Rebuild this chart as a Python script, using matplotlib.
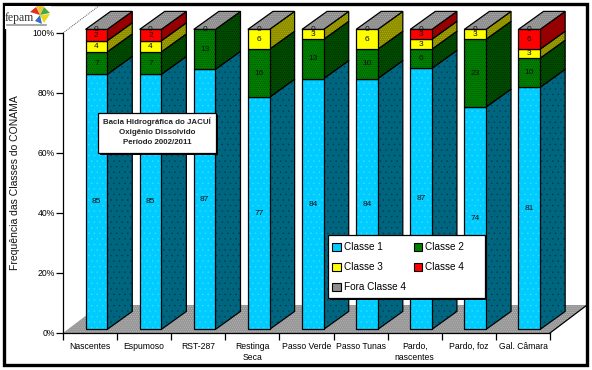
import matplotlib
matplotlib.use('Agg')
import matplotlib.pyplot as plt
from matplotlib.patches import Polygon, Rectangle, Patch

plt.rcParams['font.family'] = ['Liberation Sans', 'DejaVu Sans']
plt.rcParams['hatch.linewidth'] = 0.3

## -- chart values
sites = ['Nascentes', 'Espumoso', 'RST-287', 'Restinga\nSeca', 'Passo Verde',
         'Passo Tunas', 'Pardo,\nnascentes', 'Pardo, foz', 'Gal. Câmara']
classe1 = [85.0, 85.0, 86.7, 77.4, 83.6, 83.6, 87.0, 74.1, 80.7]
classe2 = [7.5, 7.5, 13.3, 16.0, 13.1, 9.8, 6.4, 22.6, 9.7]
classe3 = [3.7, 3.7, 0.0, 6.6, 3.3, 6.6, 3.3, 3.3, 3.0]
classe4 = [3.8, 3.8, 0.0, 0.0, 0.0, 0.0, 3.3, 0.0, 6.6]
fora = [0, 0, 0, 0, 0, 0, 0, 0, 0]
## -- printed labels are rounded in the original and do not always match
label1 = ['85', '85', '87', '77', '84', '84', '87', '74', '81']
label2 = ['7', '7', '13', '16', '13', '10', '6', '23', '10']
label3 = ['4', '4', '', '6', '3', '6', '3', '3', '3']
label4 = ['2', '2', '', '', '', '', '3', '', '6']
label5 = ['0', '0', '0', '0', '0', '0', '0', '0', '0']
yticks = [0, 20, 40, 60, 80, 100]

series = [classe1, classe2, classe3, classe4, fora]
labels = [label1, label2, label3, label4, label5]
names = ['Classe 1', 'Classe 2', 'Classe 3', 'Classe 4', 'Fora Classe 4']
front = ['#00ccff', '#008000', '#ffff00', '#ff0000', '#8c8c8c']
side = ['#006680', '#004d00', '#8c8c00', '#960000', '#8c8c8c']
hatch_front = ['...', '.'*8, None, None, '.'*8]
hatch_side = ['...', '.'*8, '.'*8, None, '.'*8]
hatch_col = ['#40dcff', '#004000', '#555500', '#700000', '#c0c0c0']
hatch_col_side = ['#003850', '#001800', '#c0c000', '#700000', '#c0c0c0']

bar_x0 = 0.417
bar_w = 0.40
bar_base = 1.2
bar_dx = 0.463
bar_dy = 6.0
wall_dx = 0.685
wall_dy = 9.33

def poly(ax, pts, fc, hatch=None, hc='k', z=2, lw=0.9):
 if hatch:
  ax.add_patch(Polygon(pts, closed=True, facecolor=fc, edgecolor=hc,
   hatch=hatch, lw=0, zorder=z, clip_on=False))
  if lw > 0:
   ax.add_patch(Polygon(pts, closed=True, fill=False, edgecolor='k',
    lw=lw, zorder=z, clip_on=False))
 else:
  ax.add_patch(Polygon(pts, closed=True, facecolor=fc, edgecolor='k',
   lw=lw, zorder=z, clip_on=False))

fig = plt.figure(figsize=(5.92, 3.70), dpi=100)
ax = fig.add_axes([63/592, 1-333/370, 487/592, 300/370])
ax.set_xlim(0, 9)
ax.set_ylim(0, 100)
ax.patch.set_alpha(0)
for s in ['top', 'right']:
 ax.spines[s].set_visible(False)
for s in ['left', 'bottom']:
 ax.spines[s].set_linewidth(0.9)
 ax.spines[s].set_zorder(1.5)

## -- floor and back wall
poly(ax, [(0, 0), (9, 0), (9+wall_dx, wall_dy), (wall_dx, wall_dy)], '#969696',
 '.'*8, '#c8c8c8', z=1, lw=0)
ax.plot([9, 9+wall_dx], [0, wall_dy], color='k', lw=0.9, clip_on=False, zorder=1.5)
ax.plot([0, wall_dx], [100, 100+wall_dy], color='#555555', lw=0.7, ls=(0, (1, 1)),
 clip_on=False, zorder=1)

## -- oblique stacked columns
for i in range(len(sites)):
 x0 = i + bar_x0
 x1 = x0 + bar_w
 bottom = bar_base
 z = 3 + i*0.01
 for k in range(len(series)):
  v = series[k][i]
  top = bottom + v
  if v > 0:
   poly(ax, [(x1, bottom), (x1+bar_dx, bottom+bar_dy), (x1+bar_dx, top+bar_dy), (x1, top)],
    side[k], hatch_side[k], hatch_col_side[k], z=z)
   poly(ax, [(x0, bottom), (x1, bottom), (x1, top), (x0, top)],
    front[k], hatch_front[k], hatch_col[k], z=z)
  if labels[k][i]:
   ax.text(x0+bar_w/2, bottom+v/2, labels[k][i], ha='center', va='center',
    fontsize=6, color='#111111', zorder=6, clip_on=False)
  bottom = top
 poly(ax, [(x0, bottom), (x1, bottom), (x1+bar_dx, bottom+bar_dy), (x0+bar_dx, bottom+bar_dy)],
  front[4], hatch_front[4], hatch_col[4], z=z)

ax.set_yticks(yticks)
ax.set_yticklabels(['%d%%' % v for v in yticks], fontsize=6.2)
ax.set_xticks(range(len(sites)+1))
ax.set_xticklabels([])
ax.set_xticks([i+0.5 for i in range(len(sites))], minor=True)
ax.set_xticklabels(sites, minor=True, fontsize=6.2, linespacing=1.3)
ax.tick_params(axis='x', which='minor', length=0, pad=6.5)
ax.tick_params(axis='x', which='major', length=5, width=0.9)
ax.tick_params(axis='y', length=5, width=0.9, pad=1)

## -- overlay in pixel coordinates: frame, title box, legend box, y label, logo
ov = fig.add_axes([0, 0, 1, 1], zorder=10)
ov.set_xlim(0, 592)
ov.set_ylim(370, 0)
ov.axis('off')
ov.patch.set_alpha(0)
ov.add_patch(Rectangle((4, 4), 583, 361, fill=False, edgecolor='k', lw=2.4))
ov.add_patch(Rectangle((100, 115), 118, 40, facecolor='k', edgecolor='k', lw=0))
ov.add_patch(Rectangle((98, 113), 118, 40, facecolor='w', edgecolor='k', lw=0.9))
ov.text(157, 122, 'Bacia Hidrográfica do JACUÍ', ha='center', va='center',
 fontsize=5.7, fontweight='bold', color='#222222')
ov.text(157, 133, 'Oxigênio Dissolvido', ha='center', va='center',
 fontsize=5.7, fontweight='bold', color='#222222')
ov.text(157, 143, 'Período 2002/2011', ha='center', va='center',
 fontsize=5.7, fontweight='bold', color='#222222')
ov.text(15.5, 182.5, 'Frequência das Classes do CONAMA', rotation=90, ha='center',
 va='center', fontsize=7.5, color='#111111')

## -- legend, filled column-wise so Classe 1/3/Fora sit in the first column
ov.add_patch(Rectangle((330, 237), 157, 62.5, facecolor='k', lw=0))
ov.add_patch(Rectangle((328, 235), 157, 62.5, facecolor='w', edgecolor='k', lw=0.9))
order = [0, 2, 4, 1, 3]
handles = [Patch(facecolor=front[k], edgecolor='k', lw=0.8) for k in order]
leg = ov.legend(handles, [names[k] for k in order], ncol=2, loc='upper left',
 bbox_to_anchor=(328, 238), bbox_transform=ov.transData, borderaxespad=0,
 fontsize=7.2, frameon=False, handlelength=0.85, handleheight=0.85,
 handletextpad=0.3, labelspacing=1.0, borderpad=0.4, columnspacing=0.8)

## -- logo
ov.add_patch(Rectangle((5, 6), 46, 23, facecolor='w', edgecolor='none'))
ov.text(19.5, 18, 'fepam', ha='center', va='center', fontsize=8.5, family='Liberation Serif',
 color='#333333')
ov.plot([7, 46], [25, 25], color='#999999', lw=1.2)
ov.add_patch(Polygon([(40, 15), (36, 6), (44, 6)], facecolor='#f2c230', lw=0))
ov.add_patch(Polygon([(40, 15), (30, 12), (36, 7)], facecolor='#e03020', lw=0))
ov.add_patch(Polygon([(40, 15), (44, 7), (50, 13)], facecolor='#48a848', lw=0))
ov.add_patch(Polygon([(40, 15), (50, 14), (44, 23)], facecolor='#e8d820', lw=0))
ov.add_patch(Polygon([(40, 15), (42, 24), (35, 21)], facecolor='#3070c0', lw=0))

fig.savefig('out.png', dpi=100)
